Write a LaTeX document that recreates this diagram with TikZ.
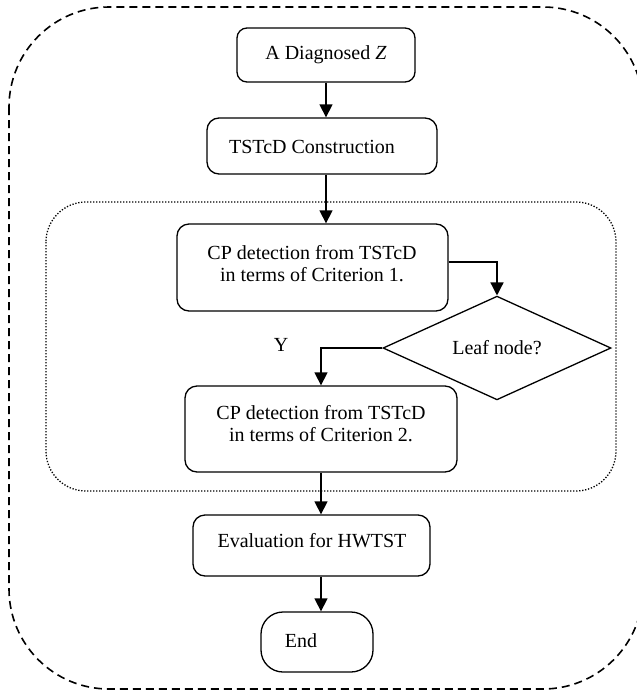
\documentclass[tikz,border=0pt]{standalone}
\usepackage{fontspec}
\setmainfont{Liberation Serif}
\usetikzlibrary{shapes.geometric,arrows.meta}
\begin{document}
\begin{tikzpicture}[x=1pt,y=-1pt,
  box/.style={draw,line width=1.3pt,rounded corners=12pt,inner sep=0pt},
  lbl/.style={inner sep=0pt,align=center,font=\fontsize{20}{22}\selectfont},
  arr/.style={line width=1.3pt,-{Triangle[length=13pt,width=13pt]}},
]
\clip (0,0) rectangle (637,694);
\draw[line width=1.6pt,dash pattern=on 8pt off 5pt,rounded corners=100pt] (9,7) rectangle (643,689);
\draw[line width=1.3pt,dash pattern=on 1.3pt off 1.7pt,rounded corners=40pt] (46,202) rectangle (616,491);

\node[box,rounded corners=10pt,minimum width=178pt,minimum height=54pt] (b1) at (326,55) {};
\node[lbl] (t1) at (326,55) {A Diagnosed \textit{Z}};

\node[box,minimum width=230pt,minimum height=56pt] (b2) at (322,146) {};
\node[lbl] (t2) at (312,147) {TSTcD Construction};

\node[box,minimum width=271pt,minimum height=87pt] (b3) at (312.5,267.5) {};
\node[lbl] (t3) at (312,264) {CP detection from TSTcD\\in terms of Criterion 1.};

\node[draw,line width=1.3pt,diamond,inner sep=0pt,minimum width=228pt,minimum height=86pt,lbl] (dia) at (497,348) {Leaf node?};

\node[box,minimum width=272pt,minimum height=86pt] (b4) at (321,429) {};
\node[lbl] (t4) at (321,424) {CP detection from TSTcD\\in terms of Criterion 2.};

\node[box,minimum width=237pt,minimum height=61pt] (b5) at (311.5,545.5) {};
\node[lbl] (t5) at (312,541) {Evaluation for HWTST};

\node[box,rounded corners=22pt,minimum width=112pt,minimum height=60pt] (b6) at (317,642) {};
\node[lbl] (t6) at (301,641) {End};

\node[lbl] (y) at (281,345) {Y};

\draw[arr] (b1.south) -- (b1.south |- b2.north);
\draw[arr] (b1.south |- b2.south) -- (b1.south |- b3.north);
\draw[arr] (b3.east |- 0,262) -| (dia.north);
\draw[arr] (dia.west) -| (b4.north);
\draw[arr] (b4.south) -- (b4.south |- b5.north);
\draw[arr] (b4.south |- b5.south) -- (b4.south |- b6.north);
\end{tikzpicture}
\end{document}
